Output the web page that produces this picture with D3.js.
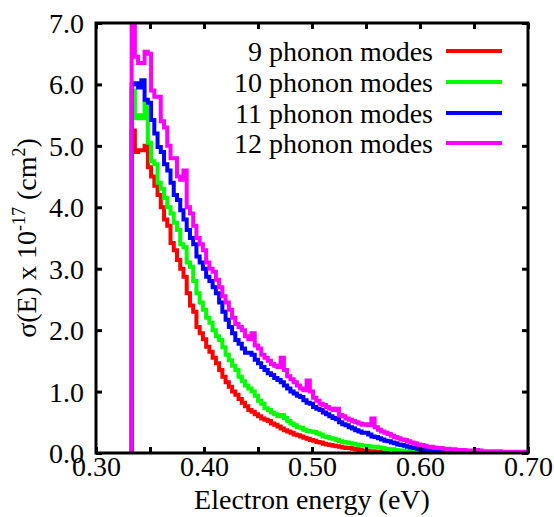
<!DOCTYPE html>
<html>
<head>
<meta charset="utf-8">
<script src="https://cdn.jsdelivr.net/npm/d3@7"></script>
</head>
<body style="margin:0">
<div id="chart"></div>
<script>
// cross section histograms, 0.003 eV bins starting at threshold
const energyStart = 0.333;
const binWidth = 0.003;
const serif = '"Liberation Serif", "Times New Roman", serif';
const fontSize = 28;

const seriesNames = ['9 phonon modes', '10 phonon modes', '11 phonon modes', '12 phonon modes'];
const seriesColors = ['#ff0000', '#00ff00', '#0000ff', '#ff00ff'];

const sigma9 = [5.25, 4.9, 4.93, 4.93, 5.0, 4.65, 4.5, 4.35, 4.2, 4.0,
  3.8, 3.7, 3.42, 3.3, 3.14, 3.0, 2.87, 2.6, 2.4, 2.3,
  2.05, 1.95, 1.85, 1.73, 1.65, 1.55, 1.46, 1.35, 1.24, 1.15,
  1.08, 1.0, 0.95, 0.88, 0.82, 0.76, 0.7, 0.67, 0.63, 0.6,
  0.56, 0.54, 0.52, 0.48, 0.46, 0.43, 0.4, 0.37, 0.35, 0.33,
  0.3, 0.29, 0.27, 0.25, 0.23, 0.21, 0.2, 0.18, 0.17, 0.15,
  0.14, 0.13, 0.12, 0.11, 0.1, 0.09, 0.08, 0.08, 0.07, 0.06,
  0.05, 0.04, 0.04, 0.03, 0.03, 0.02, 0.02, 0.01, 0.01];

const sigma10 = [5.9, 5.45, 5.5, 5.45, 5.7, 5.05, 4.75, 4.7, 4.4, 4.3,
  4.15, 4.0, 3.9, 3.75, 3.63, 3.4, 3.35, 3.1, 3.03, 2.8,
  2.6, 2.45, 2.33, 2.2, 2.12, 2.0, 1.9, 1.84, 1.72, 1.6,
  1.51, 1.42, 1.35, 1.24, 1.17, 1.1, 1.05, 1.0, 0.93, 0.85,
  0.8, 0.73, 0.7, 0.66, 0.63, 0.6, 0.62, 0.57, 0.52, 0.48,
  0.45, 0.42, 0.41, 0.38, 0.36, 0.35, 0.34, 0.32, 0.3, 0.27,
  0.26, 0.24, 0.23, 0.21, 0.19, 0.18, 0.17, 0.16, 0.15, 0.14,
  0.13, 0.12, 0.12, 0.11, 0.1, 0.1, 0.09, 0.08, 0.07, 0.06,
  0.06, 0.05, 0.04, 0.04, 0.03, 0.03, 0.02, 0.02, 0.02, 0.01,
  0.01, 0.01];

const sigma11 = [6.0, 6.02, 5.95, 6.07, 5.75, 5.7, 5.42, 5.2, 4.98, 4.9,
  4.7, 4.6, 4.4, 4.2, 4.12, 3.95, 3.8, 3.63, 3.5, 3.4,
  3.2, 3.1, 3.0, 2.87, 2.8, 2.7, 2.6, 2.45, 2.3, 2.17,
  2.05, 1.95, 1.84, 1.78, 1.7, 1.63, 1.63, 1.6, 1.52, 1.46,
  1.4, 1.35, 1.3, 1.27, 1.22, 1.19, 1.15, 1.1, 1.05, 1.0,
  0.97, 0.93, 0.91, 0.86, 0.82, 0.8, 0.75, 0.72, 0.7, 0.66,
  0.63, 0.6, 0.57, 0.55, 0.5, 0.47, 0.45, 0.42, 0.4, 0.37,
  0.35, 0.33, 0.33, 0.3, 0.27, 0.26, 0.24, 0.22, 0.2, 0.19,
  0.17, 0.16, 0.14, 0.13, 0.12, 0.1, 0.09, 0.08, 0.07, 0.06,
  0.05, 0.04, 0.03, 0.03, 0.02, 0.02, 0.01, 0.01, 0.01, 0.01];

const sigma12 = [7.6, 6.45, 6.35, 6.35, 6.53, 6.5, 5.9, 5.8, 5.8, 5.4,
  5.3, 5.0, 4.8, 4.8, 4.5, 4.45, 4.6, 4.0, 3.9, 3.7,
  3.5, 3.4, 3.3, 3.1, 3.0, 2.95, 2.82, 2.7, 2.55, 2.45,
  2.33, 2.2, 2.1, 2.05, 2.0, 1.9, 1.85, 1.95, 1.75, 1.7,
  1.6, 1.55, 1.5, 1.45, 1.42, 1.4, 1.55, 1.35, 1.25, 1.2,
  1.15, 1.1, 1.05, 1.02, 1.18, 1.0, 0.9, 0.85, 0.8, 0.78,
  0.75, 0.72, 0.7, 0.72, 0.62, 0.6, 0.56, 0.54, 0.52, 0.5,
  0.48, 0.46, 0.47, 0.45, 0.56, 0.42, 0.38, 0.35, 0.33, 0.31,
  0.28, 0.26, 0.24, 0.22, 0.21, 0.19, 0.17, 0.16, 0.14, 0.13,
  0.12, 0.1, 0.1, 0.09, 0.08, 0.08, 0.07, 0.07, 0.06, 0.06,
  0.05, 0.05, 0.05, 0.04, 0.04, 0.04, 0.05, 0.04, 0.03, 0.03,
  0.03, 0.03, 0.02, 0.03, 0.02, 0.02, 0.02, 0.02, 0.02, 0.01,
  0.02, 0.02];

const seriesValues = [sigma9, sigma10, sigma11, sigma12];

const xTicks = [0.30, 0.35, 0.40, 0.45, 0.50, 0.55, 0.60, 0.65, 0.70];
const xLabelTicks = ['0.30', '0.40', '0.50', '0.60', '0.70'];
const yTicks = [0, 1, 2, 3, 4, 5, 6, 7];

const width = 554, height = 517;
const margin = {left: 96, right: 26, top: 23, bottom: 64};
const plotW = width - margin.left - margin.right;
const plotH = height - margin.top - margin.bottom;

const svg = d3.select('#chart').append('svg').attr('width', width).attr('height', height)
  .style('font-family', serif, 'important');

const x = d3.scaleLinear().domain([0.30, 0.70]).range([margin.left, margin.left + plotW]);
const y = d3.scaleLinear().domain([0, 7]).range([margin.top + plotH, margin.top]);

svg.append('defs').append('clipPath').attr('id', 'plot-clip')
  .append('rect').attr('x', margin.left).attr('y', margin.top).attr('width', plotW).attr('height', plotH);

//Step line through the bin edges, starting and ending on zero
const stepLine = d3.line().x(d => x(d[0])).y(d => y(d[1])).curve(d3.curveStepAfter);
function stepPoints(values) {
  let pts = [[energyStart, 0]];
  values.forEach((v, i) => pts.push([energyStart + i * binWidth, v]));
  let end = energyStart + values.length * binWidth;
  pts.push([end, values[values.length - 1]]);
  pts.push([end, 0]);
  return pts;
}

let curves = svg.append('g').attr('clip-path', 'url(#plot-clip)');
seriesValues.forEach((vals, i) => {
  curves.append('path')
    .attr('d', stepLine(stepPoints(vals)))
    .attr('fill', 'none')
    .attr('stroke', seriesColors[i])
    .attr('stroke-width', 4)
    .attr('stroke-linejoin', 'miter');
});

//Ticks pointing inward on all four sides
const fmtX = d => xLabelTicks.includes(d3.format('.2f')(d)) ? d3.format('.2f')(d) : '';
let xBottom = svg.append('g').attr('transform', 'translate(0,' + (margin.top + plotH) + ')')
  .call(d3.axisBottom(x).tickValues(xTicks).tickSize(-6).tickPadding(3).tickFormat(fmtX));
let xTop = svg.append('g').attr('transform', 'translate(0,' + margin.top + ')')
  .call(d3.axisTop(x).tickValues(xTicks).tickSize(-6).tickFormat(''));
let yLeft = svg.append('g').attr('transform', 'translate(' + margin.left + ',0)')
  .call(d3.axisLeft(y).tickValues(yTicks).tickSize(-6).tickPadding(12).tickFormat(d3.format('.1f')));
let yRight = svg.append('g').attr('transform', 'translate(' + (margin.left + plotW) + ',0)')
  .call(d3.axisRight(y).tickValues(yTicks).tickSize(-6).tickFormat(''));

[xBottom, xTop, yLeft, yRight].forEach(a => {
  a.select('.domain').remove();
  a.attr('font-family', null).attr('font-size', null);
  a.selectAll('.tick line').attr('stroke', '#000').attr('stroke-width', 3);
  a.selectAll('.tick text').attr('fill', '#000')
    .attr('font-size', fontSize).style('font-family', serif, 'important');
});
xBottom.selectAll('.tick text').attr('dy', '0.72em');
yLeft.selectAll('.tick text').attr('dy', '0.34em');

svg.append('rect')
  .attr('x', margin.left).attr('y', margin.top).attr('width', plotW).attr('height', plotH)
  .attr('fill', 'none').attr('stroke', '#000').attr('stroke-width', 3);

//Axis titles
svg.append('text')
  .attr('x', margin.left + plotW / 2).attr('y', 509)
  .attr('text-anchor', 'middle')
  .attr('font-size', fontSize).style('font-family', serif, 'important')
  .text('Electron energy (eV)');

let ylab = svg.append('text')
  .attr('transform', 'translate(36,' + (margin.top + plotH / 2) + ') rotate(-90)')
  .attr('text-anchor', 'middle')
  .attr('font-size', fontSize).style('font-family', serif, 'important');
ylab.append('tspan').text('σ(E) x 10');
ylab.append('tspan').attr('font-size', 18).attr('dy', -11).text('-17');
ylab.append('tspan').attr('dy', 11).text(' (cm');
ylab.append('tspan').attr('font-size', 18).attr('dy', -11).text('2');
ylab.append('tspan').attr('dy', 11).text(')');

//Legend, text right-aligned with the line sample to its right
const legendY = [51, 82, 113, 143];
let legend = svg.append('g');
seriesNames.forEach((name, i) => {
  legend.append('text')
    .attr('x', 433).attr('y', legendY[i]).attr('dy', '0.34em')
    .attr('text-anchor', 'end')
    .attr('font-size', fontSize).style('font-family', serif, 'important')
    .text(name);
  legend.append('line')
    .attr('x1', 446).attr('x2', 502).attr('y1', legendY[i]).attr('y2', legendY[i])
    .attr('stroke', seriesColors[i]).attr('stroke-width', 4);
});
</script>
</body>
</html>
